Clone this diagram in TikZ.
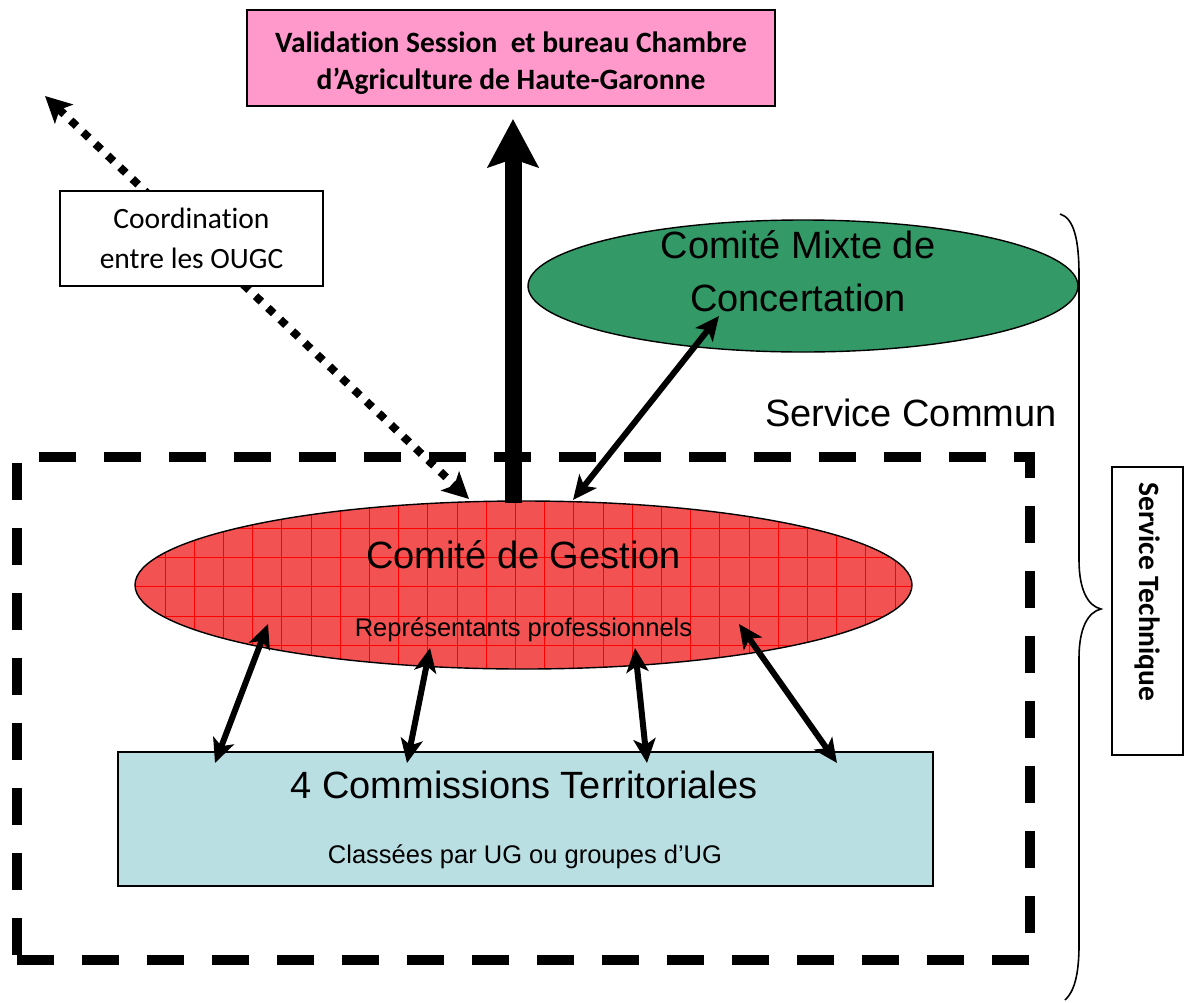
\documentclass[tikz,border=0pt]{standalone}
\usepackage{fontspec}
\setmainfont{Liberation Sans}
\newfontfamily\calfont[Ligatures=NoCommon]{Carlito}
\usetikzlibrary{arrows.meta,shapes.geometric}
\definecolor{pinkbox}{RGB}{255,153,204}
\definecolor{greenell}{RGB}{51,153,102}
\definecolor{blueb}{RGB}{185,223,227}
\definecolor{redell}{RGB}{243,82,82}
\tikzset{
  big/.style={font=\fontsize{38}{53}\selectfont, inner sep=0pt, align=center},
  small/.style={font=\fontsize{25.5}{30}\selectfont, inner sep=0pt},
  calbold/.style={font=\calfont\bfseries\fontsize{29.5}{37}\selectfont, inner sep=0pt, align=center},
  calreg/.style={font=\calfont\fontsize{29.5}{40}\selectfont, align=center},
  thinbox/.style={draw, line width=1.4pt},
  dbltip/.tip={Stealth[length=24pt,width=22pt,inset=6pt]},
  dbl/.style={line width=6pt, dbltip-dbltip},
}
\begin{document}
\begin{tikzpicture}[x=1pt,y=-1pt]
\useasboundingbox (0,0) rectangle (1186,1002);

% dashed frame (Service Commun)
\node[draw, line width=10pt, dash pattern=on 37pt off 28pt, minimum width=1013pt, minimum height=503pt, inner sep=0pt] (frame) at (523.5,708.5) {};
\node[big] (tsc) at (911,413) {Service Commun};

% top pink box
\node[thinbox, fill=pinkbox, minimum width=528pt, minimum height=96pt, inner sep=0pt] (val) at (511,58) {};
\node[calbold] (tval) at (511,63) {Validation Session\ \ et bureau Chambre\\d’Agriculture de Haute-Garonne};

% green ellipse
\node[ellipse, draw, line width=1.4pt, fill=greenell, minimum width=550pt, minimum height=132pt, inner sep=0pt] (cmc) at (803,286) {};
\node[big] (tcmc) at (798,271) {Comité Mixte de\\Concertation};

% red ellipse with grid
\begin{scope}
  \clip (523.5,585) ellipse [x radius=388.5, y radius=84];
  \fill[redell] (130,495) rectangle (920,675);
  \foreach \i in {-1,...,27} \draw[red, line width=0.8pt] (165+29.2*\i,495) -- ++(0,180);
  \foreach \j in {-2,...,5} \draw[red, line width=0.8pt] (130,528+29.3*\j) -- ++(790,0);
\end{scope}
\node[ellipse, draw, line width=1.4pt, minimum width=777pt, minimum height=168pt, inner sep=0pt] (cg) at (523.5,585) {};
\node[big] (tcg) at (523.5,555) {Comité de Gestion};
\node[small] (trp) at (523.5,630) {Représentants professionnels};

% blue box
\node[thinbox, fill=blueb, minimum width=815pt, minimum height=134pt, inner sep=0pt] (ct) at (525.5,819) {};
\node[big] (tct) at (524,785) {4 Commissions Territoriales};
\node[small] (tcl) at (525,857) {Classées par UG ou groupes d’UG};

% coordinates for connector ends
\coordinate (d1) at (45,96);
\coordinate (d2) at (469,499);
\coordinate (v1) at (513,503);
\coordinate (v2) at (513,119);
\coordinate (g1) at (719,316);
\coordinate (g2) at (573,500);
\coordinate (a1t) at (268,624); \coordinate (a1b) at (215,763);
\coordinate (a2t) at (430,648); \coordinate (a2b) at (407,763);
\coordinate (a3t) at (635,648); \coordinate (a3b) at (647,763);
\coordinate (a4t) at (739,624); \coordinate (a4b) at (837,763);

% dotted coordination arrow
\draw[line width=8pt, dash pattern=on 8pt off 9pt, {Stealth[length=26pt,width=26pt,inset=6pt]}-{Stealth[length=26pt,width=26pt,inset=6pt]}] (d1) -- (d2);
\node[thinbox, fill=white, minimum width=263pt, minimum height=95pt, inner sep=0pt, calreg] (coord) at (191.5,238.5) {Coordination\\entre les OUGC};

% thick validation arrow
\draw[line width=17pt, -{Stealth[length=48pt,width=50pt,inset=8pt]}] (v1) -- (v2);

% double arrows
\draw[dbl] (g1) -- (g2);
\draw[dbl] (a1t) -- (a1b);
\draw[dbl] (a2t) -- (a2b);
\draw[dbl] (a3t) -- (a3b);
\draw[dbl] (a4t) -- (a4b);

% brace
\draw[line width=1.6pt] (1060,214) .. controls (1074,218) and (1079,240) .. (1079,275)
  -- (1079,560) .. controls (1079,590) and (1088,606) .. (1101,609)
  .. controls (1088,612) and (1079,628) .. (1079,658)
  -- (1079,945) .. controls (1079,975) and (1074,992) .. (1065,1000);

% Service Technique box
\node[thinbox, minimum width=71pt, minimum height=288pt, inner sep=0pt] (st) at (1147.5,611) {};
\node[font=\calfont\bfseries\fontsize{29.5}{30}\selectfont, rotate=-90, anchor=west, inner sep=0pt] (tst) at (1147.5,482) {Service Technique};
\end{tikzpicture}
\end{document}
